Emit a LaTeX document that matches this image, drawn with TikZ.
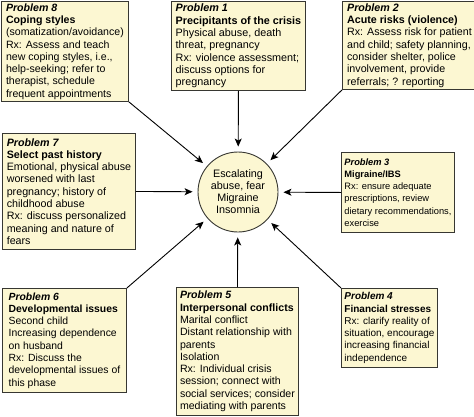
\documentclass[tikz,border=0pt]{standalone}
\usepackage{fontspec}
\setmainfont{Liberation Sans}
\usepackage{xcolor}
\usetikzlibrary{arrows.meta}

\definecolor{boxfill}{RGB}{252,247,210}
\definecolor{boxline}{RGB}{55,55,50}

\begin{document}
\begin{tikzpicture}[x=1pt, y=-1pt,
    prob/.style={rectangle, draw=boxline, line width=0.9pt, fill=boxfill, anchor=north west,
                 align=left, inner xsep=3pt, inner ysep=2pt, font=\fontsize{#1}{12.3}\selectfont},
    prob/.default=10.6,
    core/.style={circle, draw=boxline, line width=0.9pt, fill=boxfill, minimum size=80pt,
                 align=center, inner sep=1pt, font=\fontsize{10.8}{12}\selectfont},
    arr/.style={-{Stealth[length=8pt, width=7pt, inset=2pt]}, line width=0.9pt, shorten >=5pt},
  ]
    \useasboundingbox (0,0) rectangle (474,416);

    % Centre
    \node[core] (esc) at (238,192) {Escalating\\abuse, fear\\Migraine\\Insomnia};

    % Problems, clockwise from the top
    \node[prob=10.8, minimum width=134pt, minimum height=89pt] (p1) at (171,1)
      {\textbf{\textit{Problem 1}}\\\textbf{Precipitants of the crisis}\\Physical abuse, death\\threat, pregnancy\\Rx: violence assessment;\\discuss options for\\pregnancy};
    \node[prob=10.7, minimum width=134pt, minimum height=88pt] (p2) at (342,1)
      {\textbf{\textit{Problem 2}}\\\textbf{Acute risks (violence)}\\Rx: Assess risk for patient\\and child; safety planning,\\consider shelter, police\\involvement, provide\\referrals; ? reporting};
    \node[prob=9.3, minimum width=112pt, minimum height=80pt] (p3) at (341,152)
      {\textbf{\textit{Problem 3}}\\\textbf{Migraine/IBS}\\Rx: ensure adequate\\prescriptions, review\\dietary recommendations,\\exercise};
    \node[prob=10.0, minimum width=96pt, minimum height=79pt] (p4) at (341,288)
      {\textbf{\textit{Problem 4}}\\\textbf{Financial stresses}\\Rx: clarify reality of\\situation, encourage\\increasing financial\\independence};
    \node[prob, minimum width=122pt, minimum height=128pt] (p5) at (176,287)
      {\textbf{\textit{Problem 5}}\\\textbf{Interpersonal conflicts}\\Marital conflict\\Distant relationship with\\parents\\Isolation\\Rx: Individual crisis\\session; connect with\\social services; consider\\mediating with parents};
    \node[prob=10.4, minimum width=124pt, minimum height=104pt] (p6) at (2,288)
      {\textbf{\textit{Problem 6}}\\\textbf{Developmental issues}\\Second child\\Increasing dependence\\on husband\\Rx: Discuss the\\developmental issues of\\this phase};
    \node[prob=10.7, minimum width=133pt, minimum height=116pt] (p7) at (2,133)
      {\textbf{\textit{Problem 7}}\\\textbf{Select past history}\\Emotional, physical abuse\\worsened with last\\pregnancy; history of\\childhood abuse\\Rx: discuss personalized\\meaning and nature of\\fears};
    \node[prob, minimum width=127pt, minimum height=98pt] (p8) at (1,1)
      {\textbf{\textit{Problem 8}}\\\textbf{Coping styles}\\(somatization/avoidance)\\Rx: Assess and teach\\new coping styles, i.e.,\\help-seeking; refer to\\therapist, schedule\\frequent appointments};

    % Arrows into the centre
    \draw[arr] (p1.south) -- (esc);
    \draw[arr] (p2.south west) -- (esc);
    \draw[arr] (p3.west) -- (esc);
    \draw[arr] (p4.north west) -- (esc);
    \draw[arr] (p5.north) -- (esc);
    \draw[arr] (p6.north east) -- (esc);
    \draw[arr] (p7.east) -- (esc);
    \draw[arr] (p8.south east) -- (esc);

  \end{tikzpicture}
\end{document}
